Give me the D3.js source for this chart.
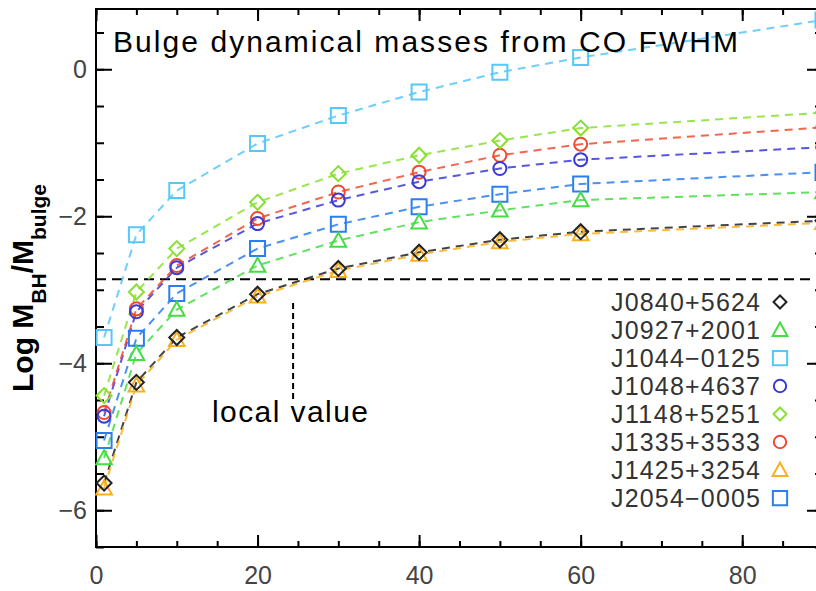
<!DOCTYPE html>
<html>
<head>
<meta charset="utf-8">
<script src="https://cdn.jsdelivr.net/npm/d3@7"></script>
<style>
  body { margin: 0; background: #fff; }
  svg { display: block; font-family: "Liberation Sans", Arial, Helvetica, sans-serif; }
  .tick text { fill: #444; font-size: 25px; }
  .tick line { stroke: #000; stroke-width: 2; }
</style>
</head>
<body>
<svg id="chart"></svg>
<script>
// x values (same for all objects)
const xVals = [1, 5, 10, 20, 30, 40, 50, 60, 90];

// log M_BH / M_bulge per object
const names = ['J0840+5624', 'J0927+2001', 'J1044\u22120125', 'J1048+4637',
               'J1148+5251', 'J1335+3533', 'J1425+3254', 'J2054\u22120005'];
const j0840 = [-5.63, -4.26, -3.65, -3.06, -2.71, -2.49, -2.32, -2.21, -2.06];
const j0927 = [-5.29, -3.87, -3.27, -2.67, -2.33, -2.08, -1.92, -1.78, -1.67];
const j1044 = [-3.65, -2.25, -1.65, -1.01, -0.63, -0.31, -0.04, 0.16, 0.67];
const j1048 = [-4.72, -3.30, -2.70, -2.10, -1.78, -1.53, -1.35, -1.23, -1.06];
const j1148 = [-4.44, -3.03, -2.44, -1.81, -1.42, -1.17, -0.97, -0.80, -0.59];
const j1335 = [-4.67, -3.26, -2.67, -2.03, -1.67, -1.40, -1.17, -1.02, -0.79];
const j1425 = [-5.70, -4.30, -3.68, -3.09, -2.74, -2.52, -2.35, -2.24, -2.09];
const j2054 = [-5.05, -3.66, -3.05, -2.44, -2.11, -1.87, -1.70, -1.56, -1.40];
const seriesValues = [j0840, j0927, j1044, j1048, j1148, j1335, j1425, j2054];

const colors = ['#222222', '#44dd44', '#55c8f8', '#3a3ad8', '#88e030', '#f04a30', '#f8b020', '#2a7ef0'];
const shapes = ['diamond', 'triangle', 'square', 'circle', 'diamond', 'circle', 'triangle', 'square'];

const xMajor = [0, 20, 40, 60, 80];
const xMinor = d3.range(0, 91, 5);
const yMajor = [-6, -4, -2, 0];
const yMinor = d3.range(-6.5, 0.81, 0.5);

const localValue = -2.857;
const localX = 24.4;

const width = 816, height = 591;
const margin = {top: 9, left: 96, bottom: 44};
const plotRight = 823;

const svg = d3.select('#chart').attr('width', width).attr('height', height);

const x = d3.scaleLinear().domain([0, 90]).range([margin.left, plotRight]);
const y = d3.scaleLinear().domain([-6.5, 0.82]).range([height - margin.bottom, margin.top]);

// marker shapes
function marker(shape, s) {
  if (shape === 'square') return `M${-s},${-s}h${2 * s}v${2 * s}h${-2 * s}Z`;
  if (shape === 'diamond') return `M0,${-s}L${s},0L0,${s}L${-s},0Z`;
  if (shape === 'triangle') return `M0,${-s}L${s},${s * 0.8}L${-s},${s * 0.8}Z`;
  const p = d3.path();
  p.arc(0, 0, s, 0, 2 * Math.PI);
  p.closePath();
  return p.toString();
}
const markerSize = {square: 7.5, diamond: 7.5, triangle: 7.8, circle: 6.5};

// axes: major + minor ticks on all four sides, pointing inward
const bottomY = y(-6.5), topY = y(0.82);

svg.append('g').attr('transform', `translate(0,${bottomY})`)
  .call(d3.axisBottom(x).tickValues(xMinor).tickSize(-6).tickFormat(''));
svg.append('g').attr('transform', `translate(0,${bottomY})`)
  .call(d3.axisBottom(x).tickValues(xMajor).tickSize(-12).tickPadding(19).tickFormat(d3.format('d')));
svg.append('g').attr('transform', `translate(0,${topY})`)
  .call(d3.axisTop(x).tickValues(xMinor).tickSize(-6).tickFormat(''));
svg.append('g').attr('transform', `translate(0,${topY})`)
  .call(d3.axisTop(x).tickValues(xMajor).tickSize(-12).tickFormat(''));

svg.append('g').attr('transform', `translate(${margin.left},0)`)
  .call(d3.axisLeft(y).tickValues(yMinor).tickSize(-8).tickFormat(''));
svg.append('g').attr('transform', `translate(${margin.left},0)`)
  .call(d3.axisLeft(y).tickValues(yMajor).tickSize(-16).tickPadding(9).tickFormat(d3.format('d')));
svg.append('g').attr('transform', `translate(${plotRight},0)`)
  .call(d3.axisRight(y).tickValues(yMinor).tickSize(-8).tickFormat(''));
svg.append('g').attr('transform', `translate(${plotRight},0)`)
  .call(d3.axisRight(y).tickValues(yMajor).tickSize(-16).tickFormat(''));

svg.selectAll('.domain').remove();

// frame
svg.append('rect')
  .attr('x', margin.left).attr('y', topY)
  .attr('width', plotRight - margin.left).attr('height', bottomY - topY)
  .attr('fill', 'none').attr('stroke', '#000').attr('stroke-width', 2);

// local value reference
svg.append('line')
  .attr('x1', x(0)).attr('x2', plotRight)
  .attr('y1', y(localValue)).attr('y2', y(localValue))
  .attr('stroke', '#000').attr('stroke-width', 2).attr('stroke-dasharray', '10,6');
svg.append('line')
  .attr('x1', x(localX)).attr('x2', x(localX))
  .attr('y1', y(-3.18)).attr('y2', y(-4.5))
  .attr('stroke', '#000').attr('stroke-width', 2).attr('stroke-dasharray', '6,4');

// series
const series = names.map((name, i) => ({
  name, color: colors[i], shape: shapes[i],
  points: xVals.map((xv, j) => ({x: xv, y: seriesValues[i][j]}))
}));

const line = d3.line().x(d => x(d.x)).y(d => y(d.y));

svg.append('g').selectAll('path')
  .data(series)
  .join('path')
    .attr('d', d => line(d.points))
    .attr('fill', 'none')
    .attr('stroke', d => d.color)
    .attr('stroke-width', 2)
    .attr('stroke-opacity', 0.85)
    .attr('stroke-dasharray', '8,6');

const groups = svg.append('g').selectAll('g')
  .data(series.slice().reverse())
  .join('g');

groups.selectAll('path')
  .data(d => d.points.map(p => ({...p, color: d.color, shape: d.shape})))
  .join('path')
    .attr('transform', d => `translate(${x(d.x)},${y(d.y)})`)
    .attr('d', d => marker(d.shape, markerSize[d.shape]))
    .attr('fill', 'none')
    .attr('stroke', d => d.color)
    .attr('stroke-width', 2);

// legend
const legend = svg.append('g');
const legendRow = legend.selectAll('g')
  .data(series)
  .join('g')
    .attr('transform', (d, i) => `translate(0,${302 + i * 28})`);

legendRow.append('text')
  .attr('x', 760).attr('y', 9)
  .attr('text-anchor', 'end')
  .attr('font-size', 25)
  .attr('fill', '#333')
  .attr('textLength', 149)
  .attr('lengthAdjust', 'spacing')
  .text(d => d.name);

legendRow.append('path')
  .attr('transform', 'translate(780,0)')
  .attr('d', d => marker(d.shape, d.shape === 'diamond' ? 6.5 : markerSize[d.shape] * 0.95))
  .attr('fill', 'none')
  .attr('stroke', d => d.color)
  .attr('stroke-width', 2);

// annotations
svg.append('text')
  .attr('x', 113).attr('y', 52)
  .attr('font-size', 30)
  .attr('fill', '#000')
  .attr('textLength', 625)
  .attr('lengthAdjust', 'spacing')
  .text('Bulge dynamical masses from CO FWHM');

svg.append('text')
  .attr('x', 212).attr('y', 422)
  .attr('font-size', 30)
  .attr('fill', '#000')
  .attr('textLength', 156)
  .attr('lengthAdjust', 'spacing')
  .text('local value');

// y axis title
const yTitle = svg.append('text')
  .attr('transform', 'translate(33,288) rotate(-90)')
  .attr('text-anchor', 'middle')
  .attr('font-weight', 'bold')
  .attr('font-size', 30)
  .attr('fill', '#000');
yTitle.append('tspan').text('Log M');
yTitle.append('tspan').attr('font-size', 21).attr('dy', 13).text('BH');
yTitle.append('tspan').attr('dy', -13).text('/M');
yTitle.append('tspan').attr('font-size', 21).attr('dy', 13).text('bulge');
</script>
</body>
</html>
